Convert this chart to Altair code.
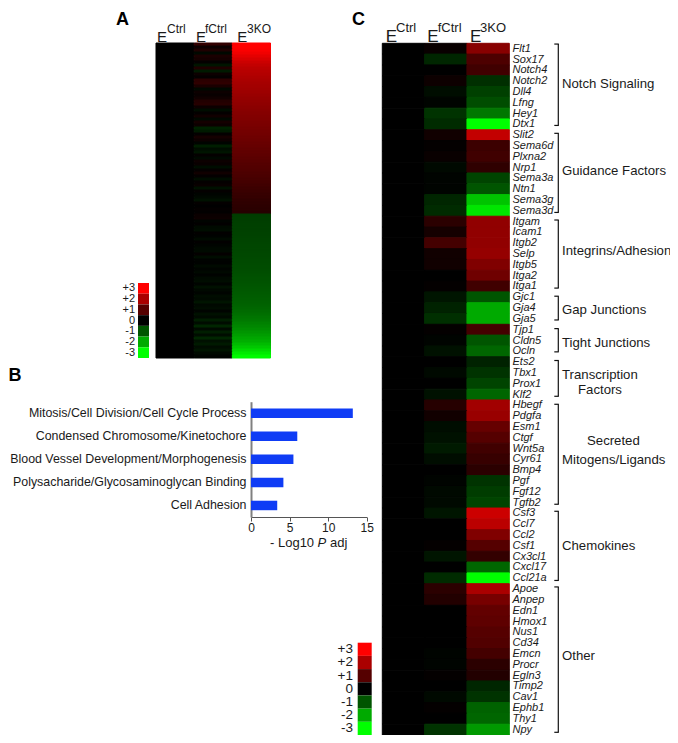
import altair as alt
import pandas as pd

FONT = "Liberation Sans"
INK = "#1a1a1a"

# ---------- data ----------
heat_cols = ["Ctrl", "fCtrl", "3KO"]
legend_vals = [3, 2, 1, 0, -1, -2, -3]
legend_text = ["+3", "+2", "+1", "0", "-1", "-2", "-3"]

# Panel A
a_ko = [3.0,3.0,2.95,2.85,2.7,2.55,2.4,2.3,2.2,2.15,2.1,2.05,2.0,1.95,1.92,1.88,1.85,1.8,1.75,1.72,
        1.68,1.64,1.6,1.56,1.53,1.5,1.46,1.43,1.4,1.37,1.34,1.3,1.27,1.24,1.2,1.17,1.14,1.1,1.07,1.04,
        1.0,.97,.94,.9,.87,.83,.8,.76,.72,.68,.65,.62,.58,.55,.52,.5,.46,
        -.72,-.73,-.74,-.75,-.76,-.77,-.78,-.79,-.8,-.81,-.82,-.83,-.84,-.85,-.86,-.87,-.88,-.89,-.9,-.92,
        -.94,-.96,-.98,-1.0,-1.02,-1.04,-1.06,-1.08,-1.1,-1.13,-1.16,-1.2,-1.25,-1.3,-1.36,-1.42,-1.5,-1.58,
        -1.66,-1.75,-1.85,-1.95,-2.05,-2.2,-2.35,-2.55,-2.75,-2.95]
a_f = [.6,.15,.35,-.1,.3,.25,.05,-.25,.35,-.3,.15,.05,.5,.55,.3,-.1,.15,.1,.2,.4,
       .45,.15,-.15,.05,.2,-.1,.25,.15,-.4,-.3,.05,.25,.15,-.05,-.35,-.15,-.25,.05,-.1,.15,
       .1,-.15,.05,.2,.05,-.15,.05,.1,-.2,.05,-.05,-.1,-.2,.05,0,.05,.02,
       .12,.15,-.05,.02,-.12,-.15,.03,-.03,-.12,.02,-.05,-.1,-.12,.05,-.15,-.04,-.02,-.12,-.05,-.1,-.03,
       -.12,-.15,-.05,-.2,-.1,-.05,-.15,-.12,-.25,-.1,-.15,-.05,-.2,-.12,-.35,-.15,-.45,-.12,-.35,-.15,
       -.45,-.2,-.3,-.15,-.25,-.12,-.05]

# Panel B
b_terms = ["Mitosis/Cell Division/Cell Cycle Process", "Condensed Chromosome/Kinetochore",
           "Blood Vessel Development/Morphogenesis", "Polysacharide/Glycosaminoglycan Binding",
           "Cell Adhesion"]
b_vals = [13.2, 6.0, 5.5, 4.2, 3.4]

# Panel C
genes = ["Flt1","Sox17","Notch4","Notch2","Dll4","Lfng","Hey1","Dtx1",
         "Slit2","Sema6d","Plxna2","Nrp1","Sema3a","Ntn1","Sema3g","Sema3d",
         "Itgam","Icam1","Itgb2","Selp","Itgb5","Itga2","Itga1",
         "Gjc1","Gja4","Gja5","Tjp1","Cldn5","Ocln",
         "Ets2","Tbx1","Prox1","Klf2",
         "Hbegf","Pdgfa","Esm1","Ctgf","Wnt5a","Cyr61","Bmp4","Pgf","Fgf12","Tgfb2",
         "Csf3","Ccl7","Ccl2","Csf1","Cx3cl1","Cxcl17","Ccl21a",
         "Apoe","Anpep","Edn1","Hmox1","Nus1","Cd34","Emcn","Procr","Egln3","Timp2","Cav1","Ephb1","Thy1","Npy"]
c_f = [.1,-.45,0,.15,-.15,-.05,-.6,-.5,
       .2,.05,.1,-.1,-.05,-.05,-.45,-.5,
       .5,.25,.8,.2,.2,0,.05,
       -.25,-.4,-.55,.05,-.05,-.2,
       0,-.1,0,-.2,
       .45,.2,-.15,-.2,-.3,-.15,0,-.05,-.1,-.1,
       -.25,0,0,.05,-.25,0,-.5,
       .5,.4,0,0,0,0,-.05,-.05,.05,0,-.1,.05,0,-.6]
c_ko = [1.6,.9,.75,-.55,-.75,-.9,-1.4,-3,
        2.3,.7,.75,.55,-.8,-1.0,-2.3,-2.7,
        1.7,1.7,1.7,1.75,1.5,1.3,.75,
        -1.0,-2.0,-2.0,.8,-1.0,-1.2,
        -.4,-.6,-.8,-1.2,
        1.9,1.8,1.2,1.0,.75,.65,.5,-.6,-.7,-.8,
        2.4,2.2,1.5,1.0,.6,-1.2,-3,
        2.0,1.4,1.15,1.1,1.0,.95,.8,.5,.4,-.45,-.6,-1.15,-1.2,-1.8]
brackets_start = [.07,8.33,16.35,23.4,26.4,29.35,33.4,43.3,50.3]
brackets_end = [7.6,15.65,22.65,25.6,28.55,32.66,42.65,49.7,63.75]

# ---------- frames ----------
def heat_frame(f, ko):
    n = len(ko)
    rows = []
    for i in range(n):
        rows.append({"col": "Ctrl", "row": i, "row2": i + 1, "v": 0})
        rows.append({"col": "fCtrl", "row": i, "row2": i + 1, "v": f[i]})
        rows.append({"col": "3KO", "row": i, "row2": i + 1, "v": ko[i]})
    return pd.DataFrame(rows)

color_scale = alt.Scale(domain=[-3, 0, 3], range=["#00ff00", "#000000", "#ff0000"], interpolate="rgb")

def heat(f, ko, xr, yr):
    df = heat_frame(f, ko)
    return alt.Chart(df).mark_rect(strokeWidth=1).encode(
        x=alt.X("col:N", sort=heat_cols, axis=None,
                scale=alt.Scale(type="band", domain=heat_cols, range=xr, paddingInner=0, paddingOuter=0)),
        y=alt.Y("row:Q", axis=None, scale=alt.Scale(domain=[0, len(ko)], range=yr, nice=False, zero=False)),
        y2="row2:Q",
        color=alt.Color("v:Q", scale=color_scale, legend=None),
        stroke=alt.Stroke("v:Q", scale=color_scale, legend=None),
    )

def color_key(x_left, x_right, yr, label_x, fs):
    df = pd.DataFrame({"t": legend_text, "v": legend_vals})
    yscale = alt.Scale(type="band", domain=legend_text, range=yr, paddingInner=0, paddingOuter=0)
    sw = alt.Chart(df).mark_rect().encode(
        x=alt.value(x_left), x2=alt.value(x_right),
        y=alt.Y("t:N", sort=legend_text, axis=None, scale=yscale),
        color=alt.Color("v:Q", scale=color_scale, legend=None),
    )
    tx = alt.Chart(df).mark_text(font=FONT, fontSize=fs, align="right", baseline="middle", color=INK).encode(
        x=alt.value(label_x),
        y=alt.Y("t:N", sort=legend_text, axis=None, scale=yscale),
        text="t:N",
    )
    return [sw, tx]

def label(text, x, y, size, **kw):
    opts = dict(font=FONT, fontSize=size, align="left", baseline="alphabetic", color=INK)
    opts.update(kw)
    return alt.Chart(pd.DataFrame({"t": [text]})).mark_text(**opts).encode(
        x=alt.value(x - 8), y=alt.value(y - 8), text="t:N")

layers = []

# panel A
layers.append(heat(a_f, a_ko, [148, 262.5], [35, 350]))
layers += color_key(130, 141, [275, 350], 127, 11)

# panel C
c_yr = [35.3, 727]
layers.append(heat(c_f, c_ko, [374.3, 501.3], c_yr))
layers += color_key(349.7, 363.7, [634.7, 727], 345, 13.5)

gene_df = pd.DataFrame({"g": genes, "r": [i + 0.5 for i in range(len(genes))]})
row_scale = alt.Scale(domain=[0, len(genes)], range=c_yr, nice=False, zero=False)
layers.append(alt.Chart(gene_df).mark_text(font=FONT, fontSize=11, fontStyle="italic", align="left",
                                           baseline="middle", color=INK).encode(
    x=alt.value(504.5),
    y=alt.Y("r:Q", axis=None, scale=row_scale),
    text="g:N"))

br_df = pd.DataFrame({"s": brackets_start, "e": brackets_end})
layers.append(alt.Chart(br_df).mark_rule(color="#111111", strokeWidth=1.2).encode(
    x=alt.value(550.3),
    y=alt.Y("s:Q", axis=None, scale=row_scale), y2="e:Q"))
layers.append(alt.Chart(br_df).mark_rule(color="#111111", strokeWidth=1.2).encode(
    x=alt.value(546.3), x2=alt.value(550.8),
    y=alt.Y("s:Q", axis=None, scale=row_scale)))
layers.append(alt.Chart(br_df).mark_rule(color="#111111", strokeWidth=1.2).encode(
    x=alt.value(546.3), x2=alt.value(550.8),
    y=alt.Y("e:Q", axis=None, scale=row_scale)))

# panel B
b_df = pd.DataFrame({"term": b_terms, "val": b_vals})
layers.append(alt.Chart(b_df).mark_bar(color="#0f3cf5", size=9.5).encode(
    x=alt.X("val:Q", scale=alt.Scale(domain=[0, 15], range=[243, 358.7], nice=False),
            axis=alt.Axis(orient="bottom", offset=-218, values=[0, 5, 10, 15], title=None, grid=False,
                          labelFont=FONT, labelFontSize=12, labelColor=INK, labelPadding=1,
                          domainColor="#555555", tickColor="#555555", tickSize=4, labelFlush=False)),
    y=alt.Y("term:N", sort=b_terms,
            scale=alt.Scale(type="band", domain=b_terms, range=[393.7, 509], paddingInner=0, paddingOuter=0),
            axis=alt.Axis(orient="left", offset=-243, title=None, grid=False, ticks=False,
                          labelFont=FONT, labelFontSize=12.4, labelColor=INK, labelPadding=5, labelLimit=300,
                          domainColor="#808080", domainWidth=2)),
))

# headers panel A
for t, ex, sx in [("Ctrl", 157, 167), ("fCtrl", 196, 205), ("3KO", 237.3, 247)]:
    layers.append(label("E", ex, 41.5, 15))
    layers.append(label(t, sx, 33, 12))
# headers panel C
for t, ex, sx in [("Ctrl", 385.7, 396), ("fCtrl", 427.3, 437.7), ("3KO", 470, 480)]:
    layers.append(label("E", ex, 41.5, 17))
    layers.append(label(t, sx, 32, 13))

# panel letters
layers.append(label("A", 116, 24.5, 18, fontWeight="bold", color="#000000"))
layers.append(label("B", 8.5, 381, 18, fontWeight="bold", color="#000000"))
layers.append(label("C", 352, 24.5, 18, fontWeight="bold", color="#000000"))

# bar axis title
layers.append(label("- Log10", 270, 547, 13))
layers.append(label("P", 317.5, 547, 13, fontStyle="italic"))
layers.append(label("adj", 330, 547, 13))

# group labels
for t, x, y in [("Notch Signaling", 562, 88), ("Guidance Factors", 562, 175), ("Integrins/Adhesion", 562, 255),
                ("Gap Junctions", 562, 314), ("Tight Junctions", 562, 347), ("Transcription", 562, 379),
                ("Factors", 578, 394), ("Secreted", 587, 445), ("Mitogens/Ligands", 562, 464),
                ("Chemokines", 562, 550), ("Other", 562, 660)]:
    layers.append(label(t, x, y, 13.2))

chart = alt.layer(*layers).resolve_scale(
    x="independent", y="independent", color="independent", stroke="independent"
).properties(
    width=662, height=727, padding=0,
    autosize=alt.AutoSizeParams(type="none"),
    background="white",
).configure_view(stroke=None)

chart.save("out.html", embed_options={"renderer": "svg", "actions": False})
